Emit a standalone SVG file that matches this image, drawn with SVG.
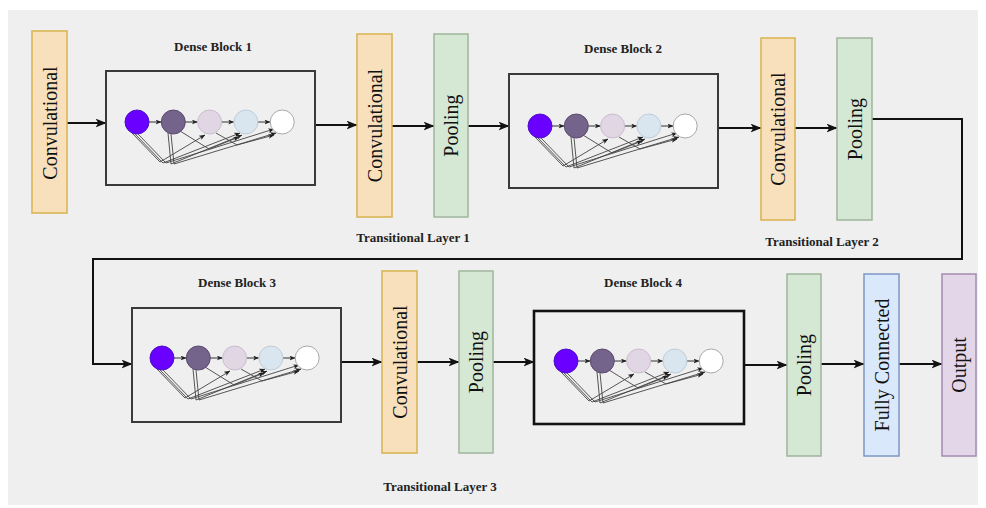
<svg xmlns="http://www.w3.org/2000/svg" xmlns:xlink="http://www.w3.org/1999/xlink" width="986" height="508" viewBox="0 0 986 508">
  <style>
    .panel { fill: #efefef; }
    .conv { fill: #f8e0bd; stroke: #d9b24e; stroke-width: 1.5; }
    .pool { fill: #d5e8d4; stroke: #9fb69c; stroke-width: 1.5; }
    .fc { fill: #dae8fc; stroke: #7f97c2; stroke-width: 1.5; }
    .out { fill: #e4d6e9; stroke: #a58bb0; stroke-width: 1.5; }
    .block { fill: none; stroke: #3a3a3a; stroke-width: 2; }
    .block-strong { fill: none; stroke: #111; stroke-width: 2.6; }
    .vlabel { font-family: "Liberation Serif", "Times New Roman", serif; font-size: 20px; fill: #111; text-anchor: middle; dominant-baseline: central; }
    .title { font-family: "Liberation Serif", "Times New Roman", serif; font-size: 13px; font-weight: bold; fill: #222; text-anchor: middle; }
    .edge { fill: none; stroke: #111; stroke-width: 2; }
    .link { fill: none; stroke: #444; stroke-width: 0.9; }
    .hop { fill: none; stroke: #333; stroke-width: 1; }
  </style>
  <defs>
    <marker id="arrow" viewBox="0 0 10 8" refX="9.5" refY="4" markerWidth="11" markerHeight="9" markerUnits="userSpaceOnUse" orient="auto">
      <path d="M0,0 L10,4 L0,8 L2.5,4 Z" fill="#111"/>
    </marker>
    <marker id="tip" viewBox="0 0 10 8" refX="9.5" refY="4" markerWidth="6" markerHeight="5" markerUnits="userSpaceOnUse" orient="auto">
      <path d="M0,0 L10,4 L0,8 L2.5,4 Z" fill="#222"/>
    </marker>
    <!-- five densely connected units, first unit centred on the origin -->
    <g id="dense-core">
      <g class="link">
        <polyline points="-5,11 23,40 68,13" marker-end="url(#tip)"/>
        <polyline points="-2,12 26,41 103,11" marker-end="url(#tip)"/>
        <polyline points="1,12 29,41 137,7" marker-end="url(#tip)"/>
        <polyline points="31,11 34,42 105,13" marker-end="url(#tip)"/>
        <polyline points="34,12 37,42 139,11" marker-end="url(#tip)"/>
        <polyline points="43,9 72,27 102,15" marker-end="url(#tip)"/>
        <polyline points="79,11 100,23 137,13" marker-end="url(#tip)"/>
      </g>
      <g class="hop">
        <line x1="12" y1="0" x2="24.3" y2="0" marker-end="url(#tip)"/>
        <line x1="48.3" y1="0" x2="60.6" y2="0" marker-end="url(#tip)"/>
        <line x1="84.6" y1="0" x2="96.9" y2="0" marker-end="url(#tip)"/>
        <line x1="120.9" y1="0" x2="133.2" y2="0" marker-end="url(#tip)"/>
      </g>
      <circle cx="0" cy="0" r="12" fill="#6a00ff" stroke="#4b12c8" stroke-width="1"/>
      <circle cx="36.3" cy="0" r="12" fill="#74638a" stroke="#5a4a6c" stroke-width="1"/>
      <circle cx="72.6" cy="0" r="12" fill="#e1d6e3" stroke="#c9bccd" stroke-width="1"/>
      <circle cx="108.9" cy="0" r="12" fill="#d9e5ef" stroke="#bfcdd9" stroke-width="1"/>
      <circle cx="145.2" cy="0" r="12" fill="#ffffff" stroke="#a8a8a8" stroke-width="1"/>
    </g>
  </defs>

  <rect class="panel" x="8" y="10" width="970" height="495"/>

  <!-- connectors -->
  <g id="connectors">
    <line class="edge" x1="67" y1="123" x2="106" y2="123" marker-end="url(#arrow)"/>
    <line class="edge" x1="315" y1="125" x2="357" y2="125" marker-end="url(#arrow)"/>
    <line class="edge" x1="392" y1="126" x2="434" y2="126" marker-end="url(#arrow)"/>
    <line class="edge" x1="468" y1="126" x2="509" y2="126" marker-end="url(#arrow)"/>
    <line class="edge" x1="719" y1="128" x2="761" y2="128" marker-end="url(#arrow)"/>
    <line class="edge" x1="795" y1="128" x2="837" y2="128" marker-end="url(#arrow)"/>
    <polyline class="edge" points="872,119 962,119 962,259 93,259 93,364 132,364" marker-end="url(#arrow)"/>
    <line class="edge" x1="341" y1="362" x2="382" y2="362" marker-end="url(#arrow)"/>
    <line class="edge" x1="417" y1="362" x2="459" y2="362" marker-end="url(#arrow)"/>
    <line class="edge" x1="493" y1="362" x2="534" y2="362" marker-end="url(#arrow)"/>
    <line class="edge" x1="744" y1="365" x2="787" y2="365" marker-end="url(#arrow)"/>
    <line class="edge" x1="821" y1="364" x2="864" y2="364" marker-end="url(#arrow)"/>
    <line class="edge" x1="899" y1="364" x2="942" y2="364" marker-end="url(#arrow)"/>
  </g>

  <!-- top row -->
  <g id="conv-input">
    <rect class="conv" x="32" y="31" width="35" height="182"/>
    <text class="vlabel" transform="translate(49.5,123) rotate(-90)">Convulational</text>
  </g>
  <g id="dense-block-1">
    <text class="title" x="213" y="51">Dense Block 1</text>
    <rect class="block" x="106" y="71" width="209" height="114"/>
    <use href="#dense-core" x="137" y="122"/>
  </g>
  <g id="transition-1-conv">
    <rect class="conv" x="357" y="34" width="35" height="183"/>
    <text class="vlabel" transform="translate(374.5,125.5) rotate(-90)">Convulational</text>
  </g>
  <g id="transition-1-pool">
    <rect class="pool" x="434" y="34" width="34" height="183"/>
    <text class="vlabel" transform="translate(451,125.5) rotate(-90)">Pooling</text>
  </g>
  <g id="transition-1-label">
    <text class="title" x="413" y="242">Transitional Layer 1</text>
  </g>
  <g id="dense-block-2">
    <text class="title" x="623" y="53">Dense Block 2</text>
    <rect class="block" x="509" y="74" width="209" height="114"/>
    <use href="#dense-core" x="540" y="126"/>
  </g>
  <g id="transition-2-conv">
    <rect class="conv" x="761" y="38" width="34" height="182"/>
    <text class="vlabel" transform="translate(778,129) rotate(-90)">Convulational</text>
  </g>
  <g id="transition-2-pool">
    <rect class="pool" x="837" y="38" width="35" height="182"/>
    <text class="vlabel" transform="translate(854.5,129) rotate(-90)">Pooling</text>
  </g>
  <g id="transition-2-label">
    <text class="title" x="822" y="246">Transitional Layer 2</text>
  </g>

  <!-- bottom row -->
  <g id="dense-block-3">
    <text class="title" x="237" y="287">Dense Block 3</text>
    <rect class="block" x="132" y="308" width="209" height="114"/>
    <use href="#dense-core" x="162" y="358"/>
  </g>
  <g id="transition-3-conv">
    <rect class="conv" x="382" y="271" width="35" height="182"/>
    <text class="vlabel" transform="translate(399.5,362) rotate(-90)">Convulational</text>
  </g>
  <g id="transition-3-pool">
    <rect class="pool" x="459" y="271" width="34" height="182"/>
    <text class="vlabel" transform="translate(476,362) rotate(-90)">Pooling</text>
  </g>
  <g id="transition-3-label">
    <text class="title" x="440" y="491">Transitional Layer 3</text>
  </g>
  <g id="dense-block-4">
    <text class="title" x="643" y="287">Dense Block 4</text>
    <rect class="block-strong" x="534" y="311" width="210" height="113"/>
    <use href="#dense-core" x="566" y="361"/>
  </g>
  <g id="final-pool">
    <rect class="pool" x="787" y="274" width="34" height="182"/>
    <text class="vlabel" transform="translate(804,365) rotate(-90)">Pooling</text>
  </g>
  <g id="fully-connected">
    <rect class="fc" x="864" y="274" width="35" height="182"/>
    <text class="vlabel" transform="translate(881.5,365) rotate(-90)">Fully Connected</text>
  </g>
  <g id="output">
    <rect class="out" x="942" y="274" width="34" height="182"/>
    <text class="vlabel" transform="translate(959,365) rotate(-90)">Output</text>
  </g>
</svg>
